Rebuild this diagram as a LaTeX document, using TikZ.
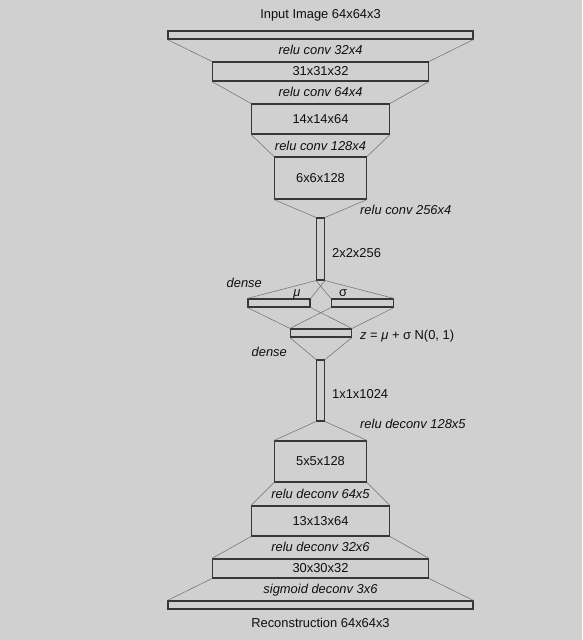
\documentclass[tikz,border=0pt]{standalone}
\usepackage{fontspec}
\setmainfont{Liberation Sans}
\definecolor{bg}{RGB}{208,208,208}
\definecolor{boxc}{RGB}{55,55,55}
\definecolor{linec}{RGB}{110,110,110}
\definecolor{txt}{RGB}{15,15,15}
\begin{document}
\begin{tikzpicture}[x=1pt,y=-1pt,
  layer/.style 2 args={draw=boxc,line width=1.1pt,inner sep=0pt,minimum width=#1pt,minimum height=#2pt,text=txt,font=\fontsize{12.9}{15}\selectfont},
  lab/.style={inner sep=0pt,text=txt,font=\fontsize{12.9}{15}\selectfont},
  ilab/.style={lab,font=\fontsize{12.9}{15}\selectfont\itshape},
  conn/.style={draw=linec,line width=0.5pt}]
\fill[bg] (0,0) rectangle (582,640);
\useasboundingbox (0,0) rectangle (582,640);
% layers
\node[layer={305}{8}] (inp) at (320.5,35) {};
\node[layer={216}{19}] (b1) at (320.5,71.5) {31x31x32};
\node[layer={138}{30}] (b2) at (320.5,119) {14x14x64};
\node[layer={92}{42}] (b3) at (320.5,178) {6x6x128};
\node[layer={8}{62}] (c1) at (320.5,249) {};
\node[layer={62}{8}] (mu) at (279,303) {};
\node[layer={62}{8}] (sig) at (362.5,303) {};
\node[layer={61}{8}] (z) at (321,333) {};
\node[layer={8}{61}] (c2) at (320.5,390.5) {};
\node[layer={92}{41}] (b4) at (320.5,461.5) {5x5x128};
\node[layer={138}{30}] (b5) at (320.5,521) {13x13x64};
\node[layer={216}{19}] (b6) at (320.5,568.5) {30x30x32};
\node[layer={305}{8}] (out) at (320.5,605) {};
% connectors
\draw[conn] (inp.south west) -- (b1.north west);
\draw[conn] (inp.south east) -- (b1.north east);
\draw[conn] (b1.south west) -- (b2.north west);
\draw[conn] (b1.south east) -- (b2.north east);
\draw[conn] (b2.south west) -- (b3.north west);
\draw[conn] (b2.south east) -- (b3.north east);
\draw[conn] (b3.south west) -- (c1.north west);
\draw[conn] (b3.south east) -- (c1.north east);
\draw[conn] (c1.south west) -- (mu.north west);
\draw[conn] (c1.south east) -- (mu.north east);
\draw[conn] (c1.south west) -- (sig.north west);
\draw[conn] (c1.south east) -- (sig.north east);
\draw[conn] (mu.south west) -- (z.north west);
\draw[conn] (mu.south east) -- (z.north east);
\draw[conn] (sig.south west) -- (z.north west);
\draw[conn] (sig.south east) -- (z.north east);
\draw[conn] (z.south west) -- (c2.north west);
\draw[conn] (z.south east) -- (c2.north east);
\draw[conn] (c2.south west) -- (b4.north west);
\draw[conn] (c2.south east) -- (b4.north east);
\draw[conn] (b4.south west) -- (b5.north west);
\draw[conn] (b4.south east) -- (b5.north east);
\draw[conn] (b5.south west) -- (b6.north west);
\draw[conn] (b5.south east) -- (b6.north east);
\draw[conn] (b6.south west) -- (out.north west);
\draw[conn] (b6.south east) -- (out.north east);
% labels
\node[lab] (tin) at (320.5,15) {Input Image 64x64x3};
\node[ilab] (l1) at (320.5,50) {relu conv 32x4};
\node[ilab] (l2) at (320.5,92) {relu conv 64x4};
\node[ilab] (l3) at (320.5,146) {relu conv 128x4};
\node[ilab,anchor=west] (l4) at (360,210) {relu conv 256x4};
\node[lab,anchor=west] (s1) at (332,253) {2x2x256};
\node[ilab,anchor=east] (d1) at (262,283) {dense};
\node[lab,anchor=base] (lmu) at (297,296) {\itshape μ};
\node[lab,anchor=base] (lsig) at (343,296) {σ};
\node[lab,anchor=west] (lz) at (360,336) {{\itshape z} = {\itshape μ} + σ N(0, 1)};
\node[ilab,anchor=east] (d2) at (287,352) {dense};
\node[lab,anchor=west] (s2) at (332,394) {1x1x1024};
\node[ilab,anchor=west] (l5) at (360,424) {relu deconv 128x5};
\node[ilab] (l6) at (320.5,494) {relu deconv 64x5};
\node[ilab] (l7) at (320.5,547) {relu deconv 32x6};
\node[ilab] (l8) at (320.5,590) {sigmoid deconv 3x6};
\node[lab] (tout) at (320.5,623) {Reconstruction 64x64x3};
\end{tikzpicture}
\end{document}
